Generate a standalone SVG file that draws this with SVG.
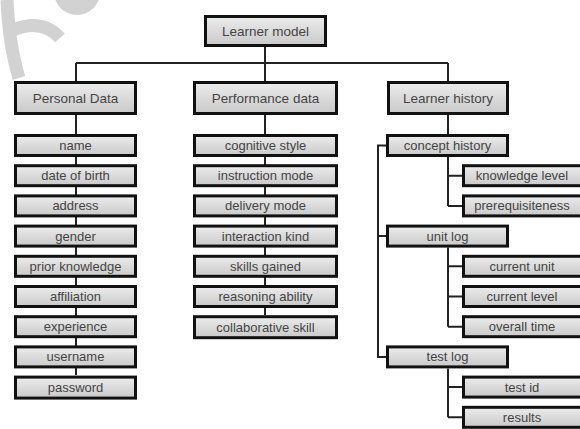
<svg xmlns="http://www.w3.org/2000/svg" width="580" height="429" viewBox="0 0 580 429">
<defs>
<linearGradient id="g" x1="0" y1="0" x2="0" y2="1">
<stop offset="0" stop-color="#ececec"/>
<stop offset="1" stop-color="#c9c9c9"/>
</linearGradient>
<style>
.b{fill:url(#g);stroke:#111;stroke-width:3}
.t{font-family:"Liberation Sans",Arial,sans-serif;font-size:13px;fill:#454545;text-anchor:middle;dominant-baseline:central}
.h{font-size:13.5px}
.c{fill:none;stroke:#222;stroke-width:2}
.w{fill:none;stroke:#d2d2d2;stroke-linecap:butt}
</style>
</defs>
<rect width="580" height="429" fill="#fff"/>
<g id="watermark">
<circle cx="77" cy="-8" r="23" fill="#d2d2d2"/>
<path class="w" d="M7,0 Q9,45 19,78" stroke-width="13"/>
<path class="w" d="M13,30 Q42,18 60,38" stroke-width="13"/>
</g>
<g id="connectors">
<path class="c" d="M265,47 V81 M76,63 H448 M76,63 V81 M448,63 V81"/>
<path class="c" d="M76,115 V375"/>
<path class="c" d="M265,115 V315"/>
<path class="c" d="M448,115 V134"/>
<path class="c" d="M386,145.5 H378 V357 H386 M378,236 H386"/>
<path class="c" d="M448,157 V206 M448,175.7 H462 M448,206 H462"/>
<path class="c" d="M448,247.6 V326.7 M448,266.3 H462 M448,296.5 H462 M448,326.7 H462"/>
<path class="c" d="M448,368.4 V417.3 M448,387.1 H462 M448,417.3 H462"/>
</g>
<g id="learner-model"><rect class="b" x="205.5" y="16.5" width="120" height="29"/><text class="t h" x="265.5" y="31">Learner model</text></g>
<g id="personal-data"><rect class="b" x="15.5" y="82.5" width="120" height="31"/><text class="t h" x="75.5" y="98">Personal Data</text></g>
<g id="performance-data"><rect class="b" x="194.5" y="82.5" width="142" height="31"/><text class="t h" x="265.5" y="98">Performance data</text></g>
<g id="learner-history"><rect class="b" x="388.5" y="82.5" width="119" height="31"/><text class="t h" x="448" y="98">Learner history</text></g>

<g id="name"><rect class="b" x="15.5" y="135.5" width="120" height="20"/><text class="t" x="75.5" y="145.5">name</text></g>
<g id="date-of-birth"><rect class="b" x="15.5" y="165.7" width="120" height="20"/><text class="t" x="75.5" y="175.7">date of birth</text></g>
<g id="address"><rect class="b" x="15.5" y="195.9" width="120" height="20"/><text class="t" x="75.5" y="205.9">address</text></g>
<g id="gender"><rect class="b" x="15.5" y="226.1" width="120" height="20"/><text class="t" x="75.5" y="236.1">gender</text></g>
<g id="prior-knowledge"><rect class="b" x="15.5" y="256.3" width="120" height="20"/><text class="t" x="75.5" y="266.3">prior knowledge</text></g>
<g id="affiliation"><rect class="b" x="15.5" y="286.5" width="120" height="20"/><text class="t" x="75.5" y="296.5">affiliation</text></g>
<g id="experience"><rect class="b" x="15.5" y="316.7" width="120" height="20"/><text class="t" x="75.5" y="326.7">experience</text></g>
<g id="username"><rect class="b" x="15.5" y="346.9" width="120" height="20"/><text class="t" x="75.5" y="356.9">username</text></g>
<g id="password"><rect class="b" x="15.5" y="377.1" width="120" height="21"/><text class="t" x="75.5" y="387.6">password</text></g>

<g id="cognitive-style"><rect class="b" x="194.5" y="135.5" width="142" height="20"/><text class="t" x="265.5" y="145.5">cognitive style</text></g>
<g id="instruction-mode"><rect class="b" x="194.5" y="165.7" width="142" height="20"/><text class="t" x="265.5" y="175.7">instruction mode</text></g>
<g id="delivery-mode"><rect class="b" x="194.5" y="195.9" width="142" height="20"/><text class="t" x="265.5" y="205.9">delivery mode</text></g>
<g id="interaction-kind"><rect class="b" x="194.5" y="226.1" width="142" height="20"/><text class="t" x="265.5" y="236.1">interaction kind</text></g>
<g id="skills-gained"><rect class="b" x="194.5" y="256.3" width="142" height="20"/><text class="t" x="265.5" y="266.3">skills gained</text></g>
<g id="reasoning-ability"><rect class="b" x="194.5" y="286.5" width="142" height="20"/><text class="t" x="265.5" y="296.5">reasoning ability</text></g>
<g id="collaborative-skill"><rect class="b" x="194.5" y="316.7" width="142" height="21"/><text class="t" x="265.5" y="327.2">collaborative skill</text></g>

<g id="concept-history"><rect class="b" x="387.5" y="135.5" width="120" height="20"/><text class="t" x="447.5" y="145.5">concept history</text></g>
<g id="knowledge-level"><rect class="b" x="463.5" y="165.7" width="120" height="20"/><text class="t" x="522" y="175.7">knowledge level</text></g>
<g id="prerequisiteness"><rect class="b" x="463.5" y="195.9" width="120" height="20"/><text class="t" x="522" y="205.9">prerequisiteness</text></g>
<g id="unit-log"><rect class="b" x="387.5" y="226.1" width="120" height="20"/><text class="t" x="447.5" y="236.1">unit log</text></g>
<g id="current-unit"><rect class="b" x="463.5" y="256.3" width="120" height="20"/><text class="t" x="522" y="266.3">current unit</text></g>
<g id="current-level"><rect class="b" x="463.5" y="286.5" width="120" height="20"/><text class="t" x="522" y="296.5">current level</text></g>
<g id="overall-time"><rect class="b" x="463.5" y="316.7" width="120" height="20"/><text class="t" x="522" y="326.7">overall time</text></g>
<g id="test-log"><rect class="b" x="387.5" y="346.9" width="120" height="20"/><text class="t" x="447.5" y="356.9">test log</text></g>
<g id="test-id"><rect class="b" x="463.5" y="377.1" width="120" height="20"/><text class="t" x="522" y="387.1">test id</text></g>
<g id="results"><rect class="b" x="463.5" y="407.3" width="120" height="20"/><text class="t" x="522" y="417.3">results</text></g>
</svg>
